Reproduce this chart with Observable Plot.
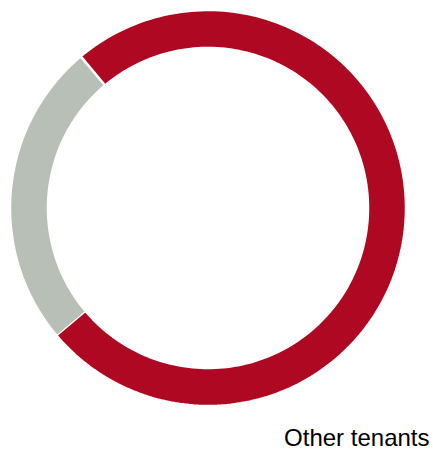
<!DOCTYPE html>
<html>
<head>
<meta charset="utf-8">
<script src="https://cdn.jsdelivr.net/npm/d3@7"></script>
<script src="https://cdn.jsdelivr.net/npm/@observablehq/plot@0.6"></script>
<style>
  html, body { margin: 0; padding: 0; background: #fff; }
  svg { display: block; font-family: "Liberation Sans", Arial, sans-serif; }
</style>
</head>
<body>
<div id="chart"></div>
<script>
// Data
const categories = ["Main tenant", "Other tenants"];
const values = [75, 25];
const colors = ["#AF0823", "#B8BFB6"];
const labelText = "Other tenants";

const innerRatio = 160 / 198;
const startDeg = -40;

const pie = d3.pie().sort(null).value(d => d.value)
  .startAngle(startDeg * Math.PI / 180)
  .endAngle((startDeg + 360) * Math.PI / 180);

const slices = pie(categories.map((c, i) => ({name: c, value: values[i]})));

// Build polygon outlines for each slice (angles clockwise from top)
const pts = [];
for (const s of slices) {
  const n = 200;
  const outer = [], inner = [];
  for (let k = 0; k <= n; k++) {
    const a = s.startAngle + (s.endAngle - s.startAngle) * k / n;
    outer.push({name: s.data.name, x: Math.sin(a), y: Math.cos(a)});
    inner.push({name: s.data.name, x: innerRatio * Math.sin(a), y: innerRatio * Math.cos(a)});
  }
  pts.push(...outer, ...inner.reverse());
}

const chart = Plot.plot({
  width: 433,
  height: 449,
  margin: 0,
  x: {domain: [-1, 1], range: [9.5, 405.5], axis: null},
  y: {domain: [-1, 1], range: [405.5, 9.5], axis: null},
  color: {domain: categories, range: colors},
  marks: [
    Plot.line(pts, {x: "x", y: "y", z: "name", fill: "name", stroke: "white", strokeWidth: 2.5, strokeLinejoin: "miter"}),
    Plot.text([labelText], {
      frameAnchor: "bottom-right",
      text: d => d,
      textAnchor: "end",
      lineAnchor: "bottom",
      fontSize: 24,
      fill: "#000",
      dx: -4,
      dy: -4
    })
  ]
});

document.getElementById("chart").appendChild(chart);
</script>
</body>
</html>
